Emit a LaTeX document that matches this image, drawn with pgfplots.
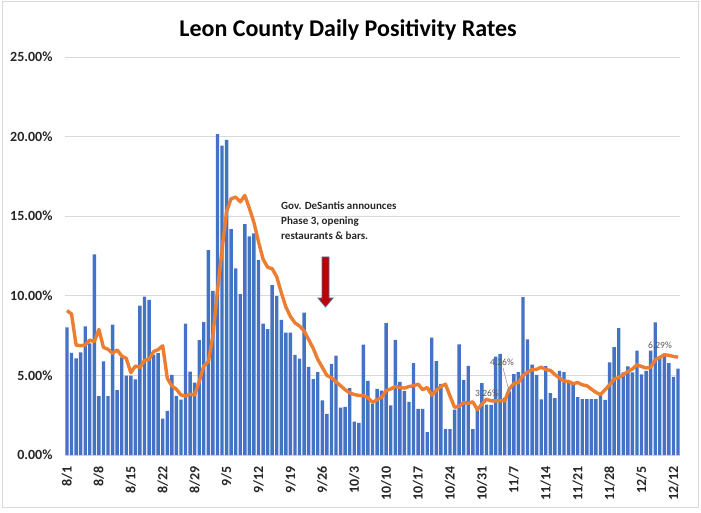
\documentclass[border=0pt]{standalone}
\usepackage{fontspec}
\setmainfont{Carlito}
\usepackage{pgfplots}
\usepackage{pgfplotstable}
\pgfplotsset{compat=1.18}
\definecolor{barblue}{HTML}{4472C4}
\definecolor{lineorange}{HTML}{ED7D31}
\definecolor{gridgray}{HTML}{D9D9D9}
\definecolor{txtgray}{HTML}{595959}
\definecolor{ticktxt}{HTML}{262626}
\definecolor{arrowred}{HTML}{C00000}
\definecolor{arrowedge}{HTML}{41719C}

\pgfplotstableread{
day bar avg
0 8.02 9.07
1 6.41 8.86
2 6.07 6.90
3 6.45 6.87
4 8.08 6.91
5 7.01 7.22
6 12.60 7.12
7 3.70 7.89
8 5.88 6.76
9 3.70 6.64
10 8.19 6.39
11 4.08 6.60
12 6.13 6.22
13 4.98 6.07
14 4.98 5.17
15 4.75 5.59
16 9.38 5.49
17 9.95 5.95
18 9.74 6.00
19 6.30 6.50
20 6.40 6.62
21 2.29 6.86
22 2.77 4.82
23 5.03 4.34
24 3.71 4.13
25 3.48 3.77
26 8.26 3.71
27 5.24 3.82
28 4.55 3.77
29 7.21 4.60
30 8.34 5.60
31 12.87 5.85
32 10.31 7.50
33 20.15 10.30
34 19.43 12.90
35 19.79 15.30
36 14.19 16.10
37 11.72 16.20
38 10.10 15.90
39 14.50 16.30
40 13.73 15.50
41 13.92 14.60
42 12.24 13.40
43 8.26 12.30
44 7.90 11.80
45 10.67 11.70
46 9.98 11.20
47 8.49 10.20
48 7.69 9.30
49 7.69 8.70
50 6.29 8.30
51 6.06 8.10
52 8.95 7.80
53 5.53 7.25
54 4.76 6.70
55 5.20 6.00
56 3.43 5.50
57 2.58 5.00
58 5.72 4.85
59 6.25 4.60
60 2.97 4.35
61 3.03 4.10
62 4.20 3.90
63 2.09 3.80
64 2.02 3.74
65 6.93 3.74
66 4.66 3.60
67 3.20 3.30
68 4.16 3.47
69 4.05 3.62
70 8.29 4.05
71 3.11 4.15
72 7.23 4.30
73 4.60 4.25
74 4.03 4.20
75 3.33 4.30
76 5.77 4.35
77 2.90 4.45
78 2.90 4.10
79 1.44 4.24
80 7.37 3.76
81 5.89 4.07
82 4.46 4.30
83 1.62 4.45
84 1.62 3.70
85 2.85 3.00
86 6.95 3.05
87 4.71 3.30
88 5.60 3.25
89 1.62 3.34
90 2.85 2.85
91 4.51 3.20
92 3.17 3.50
93 3.15 3.40
94 6.18 3.40
95 6.35 3.42
96 3.60 3.40
97 4.00 4.15
98 5.08 4.50
99 5.20 4.55
100 9.92 5.00
101 7.26 5.20
102 5.68 5.36
103 5.03 5.38
104 3.50 5.52
105 5.58 5.36
106 3.88 5.32
107 3.57 5.05
108 5.28 4.84
109 5.20 4.65
110 4.52 4.62
111 4.47 4.48
112 3.63 4.55
113 3.51 4.41
114 3.51 4.35
115 3.51 4.14
116 3.51 3.93
117 3.79 3.79
118 3.47 4.10
119 5.82 4.41
120 6.78 4.77
121 7.97 4.87
122 5.19 5.04
123 5.56 5.25
124 5.19 5.40
125 6.55 5.67
126 5.06 5.56
127 5.29 5.46
128 6.55 5.52
129 8.33 5.98
130 6.19 6.13
131 6.34 6.30
132 5.77 6.26
133 4.90 6.19
134 5.42 6.15
}\datatable

\begin{document}
\begin{tikzpicture}[x=1pt,y=1pt]
\useasboundingbox (0,0) rectangle (701,512);
\fill[white] (0,0) rectangle (701,512);
\draw[gridgray, line width=0.8pt] (2,5) rectangle (698,511);
\begin{axis}[
  at={(64.7pt,57pt)}, anchor=south west,
  scale only axis, width=615.6pt, height=398pt,
  xmin=-0.5, xmax=134.5, ymin=0, ymax=25,
  axis line style={draw=none},
  major tick length=0pt,
  ymajorgrids, grid style={gridgray, line width=0.9pt},
  ytick={0,5,10,15,20,25},
  yticklabels={0.00\%,5.00\%,10.00\%,15.00\%,20.00\%,25.00\%},
  xtick={0,7,...,133},
  xticklabels={8/1,8/8,8/15,8/22,8/29,9/5,9/12,9/19,9/26,10/3,10/10,10/17,10/24,10/31,11/7,11/14,11/21,11/28,12/5,12/12},
  yticklabel style={anchor=east, inner xsep=12pt, inner ysep=0pt, font=\fontsize{14}{14}\selectfont\bfseries, text=ticktxt},
  xticklabel style={rotate=90, anchor=east, inner xsep=11pt, inner ysep=0pt, font=\fontsize{14}{14}\selectfont\bfseries, text=ticktxt},
  clip=false,
]
\addplot[ybar, bar width=3.4pt, bar shift=0pt, fill=barblue, draw=none] table[x=day,y=bar]{\datatable};
\addplot[lineorange, line width=3.4pt, line join=round, no marks] table[x=day,y=avg]{\datatable};
\end{axis}
% title
\node[anchor=base, font=\fontsize{24}{24}\selectfont\bfseries] at (348,475) {Leon County Daily Positivity Rates};
% annotation
\node[anchor=base west, font=\fontsize{11}{12}\selectfont\bfseries, text=ticktxt, inner sep=0pt] at (281,302) {Gov. DeSantis announces};
\node[anchor=base west, font=\fontsize{11}{12}\selectfont\bfseries, text=ticktxt, inner sep=0pt] at (281,287.3) {Phase 3, opening};
\node[anchor=base west, font=\fontsize{11}{12}\selectfont\bfseries, text=ticktxt, inner sep=0pt] at (281,272.8) {restaurants \& bars.};
% arrow
\filldraw[fill=arrowred, draw=arrowedge, line width=0.8pt, line join=miter]
  (322,255) -- (329,255) -- (329,214) -- (333,214) -- (325.5,205) -- (318,214) -- (322,214) -- cycle;
% data labels
\node[txtgray, font=\fontsize{9.5}{10}\selectfont, inner sep=0pt] at (487,119) {3.26\%};
\node[txtgray, font=\fontsize{9.5}{10}\selectfont, inner sep=0pt] at (502,149.3) {4.26\%};
\node[txtgray, font=\fontsize{9.5}{10}\selectfont, inner sep=0pt] at (660,166.3) {6.29\%};
\draw[txtgray!70, line width=0.5pt] (503,144) -- (509,121);
\end{tikzpicture}
\end{document}
